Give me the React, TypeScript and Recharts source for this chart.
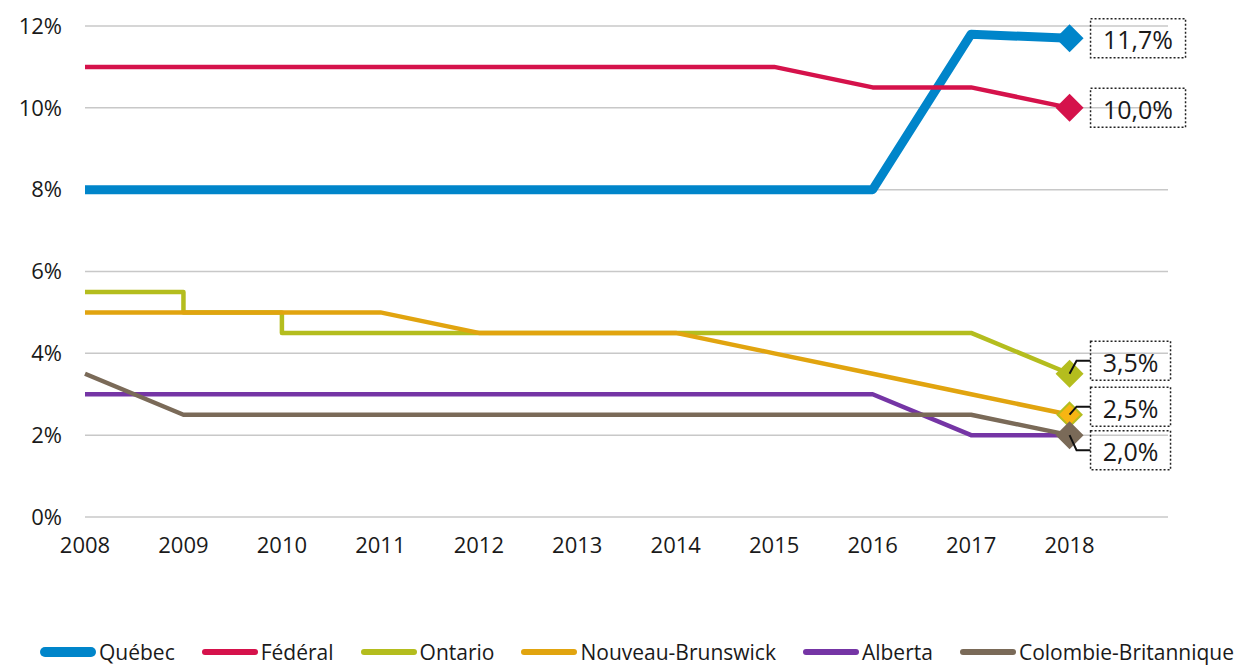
import React from "react";
import { LineChart, Line, XAxis, YAxis, CartesianGrid } from "recharts";

const years = [2008, 2009, 2010, 2011, 2012, 2013, 2014, 2015, 2016, 2017, 2018];
const yTicks = [0, 2, 4, 6, 8, 10, 12];

const quebec = [8, 8, 8, 8, 8, 8, 8, 8, 8, 11.8, 11.7];
const federal = [11, 11, 11, 11, 11, 11, 11, 11, 10.5, 10.5, 10.0];
const ontarioYears = [2008, 2009, 2009, 2010, 2010, 2011, 2012, 2013, 2014, 2015, 2016, 2017, 2018];
const ontario = [5.5, 5.5, 5.0, 5.0, 4.5, 4.5, 4.5, 4.5, 4.5, 4.5, 4.5, 4.5, 3.5];
const nouveauBrunswick = [5, 5, 5, 5, 4.5, 4.5, 4.5, 4.0, 3.5, 3.0, 2.5];
const alberta = [3, 3, 3, 3, 3, 3, 3, 3, 3, 2, 2];
const colombieBritannique = [3.5, 2.5, 2.5, 2.5, 2.5, 2.5, 2.5, 2.5, 2.5, 2.5, 2.0];

const toPoints = (xs: number[], ys: number[]) => xs.map((x, i) => ({ x, y: ys[i] }));

type EndLabel = { text: string; dy: number; r: number; fill: string; stroke?: string };

const series = [
  { name: "Québec", color: "#0085CA", width: 9, data: toPoints(years, quebec),
    end: { text: "11,7%", dy: 0, r: 14, fill: "#0085CA" } as EndLabel },
  { name: "Fédéral", color: "#D5124B", width: 4.5, data: toPoints(years, federal),
    end: { text: "10,0%", dy: 0, r: 14, fill: "#D5124B" } as EndLabel },
  { name: "Ontario", color: "#B4BD1E", width: 4.5, data: toPoints(ontarioYears, ontario),
    end: { text: "3,5%", dy: -13, r: 14, fill: "#B4BD1E" } as EndLabel },
  { name: "Nouveau-Brunswick", color: "#E1A40F", width: 4.5, data: toPoints(years, nouveauBrunswick),
    end: { text: "2,5%", dy: -8, r: 12, fill: "#F7B513", stroke: "#B4BD1E" } as EndLabel },
  { name: "Alberta", color: "#7535A5", width: 4.5, data: toPoints(years, alberta), end: null },
  { name: "Colombie-Britannique", color: "#7A6A58", width: 4.5, data: toPoints(years, colombieBritannique),
    end: { text: "2,0%", dy: 15, r: 14, fill: "#7A6A58" } as EndLabel },
];

const FONT = "'Open Sans', 'Noto Sans', sans-serif";

const renderEnd = (props: any, count: number, end: EndLabel | null) => {
  const { cx, cy, index } = props;
  if (!end || index !== count - 1) return <g key={`d-${index}`} />;
  const r = end.r;
  const boxX = cx + 21;
  const boxY = cy + end.dy;
  const boxW = 20 + end.text.length * 15;
  return (
    <g key={`d-${index}`}>
      <path
        d={`M${cx},${cy - r} L${cx + r},${cy} L${cx},${cy + r} L${cx - r},${cy} Z`}
        fill={end.fill}
        stroke={end.stroke || "none"}
        strokeWidth={2}
      />
      {end.dy !== 0 && (
        <polyline
          points={`${cx},${cy} ${cx + 7},${boxY} ${boxX},${boxY}`}
          fill="none"
          stroke="#111"
          strokeWidth={2}
        />
      )}
      <rect
        x={boxX}
        y={boxY - 19.5}
        width={boxW}
        height={39}
        fill="none"
        stroke="#222"
        strokeWidth={1.5}
        strokeDasharray="2 2"
      />
      <text
        x={boxX + boxW / 2}
        y={boxY + 1}
        textAnchor="middle"
        dominantBaseline="central"
        fontSize={25}
        fontFamily={FONT}
        fill="#1a1a1a"
      >
        {end.text}
      </text>
    </g>
  );
};

export default function App() {
  return (
    <div style={{ position: "absolute", left: 0, top: 0, width: 1237, height: 667, background: "#fff", fontFamily: FONT, overflow: "hidden" }}>
      <LineChart width={1237} height={667} margin={{ top: 26, right: 69, bottom: 120, left: 0 }}>
        <CartesianGrid vertical={false} stroke="#c8c8c8" strokeWidth={1.5} />
        <XAxis
          type="number"
          dataKey="x"
          domain={[2008, 2019]}
          ticks={years}
          axisLine={false}
          tickLine={false}
          tickMargin={14}
          height={30}
          tick={{ fontSize: 22, fill: "#1a1a1a", fontFamily: FONT }}
          allowDuplicatedCategory={false}
        />
        <YAxis
          type="number"
          domain={[0, 12]}
          ticks={yTicks}
          width={85}
          axisLine={false}
          tickLine={false}
          tickMargin={17}
          tickFormatter={(v) => `${v}%`}
          tick={{ fontSize: 22, fill: "#1a1a1a", fontFamily: FONT }}
        />
        {series.map((s) => (
          <Line
            key={s.name}
            data={s.data}
            dataKey="y"
            name={s.name}
            type="linear"
            stroke={s.color}
            strokeWidth={s.width}
            strokeLinejoin="round"
            dot={(p: any) => renderEnd(p, s.data.length, s.end)}
            activeDot={false}
            isAnimationActive={false}
          />
        ))}
      </LineChart>
      <div
        style={{
          position: "absolute",
          top: 639,
          left: 40,
          display: "flex",
          alignItems: "center",
          gap: 27,
          fontSize: 21,
          color: "#1a1a1a",
          whiteSpace: "nowrap",
          lineHeight: "26px",
        }}
      >
        {series.map((s) => (
          <div key={s.name} style={{ display: "flex", alignItems: "center" }}>
            <span
              style={{
                display: "inline-block",
                width: 56,
                height: s.width === 9 ? 10 : 6,
                borderRadius: 5,
                background: s.color,
                marginRight: 3,
              }}
            />
            <span>{s.name}</span>
          </div>
        ))}
      </div>
    </div>
  );
}
